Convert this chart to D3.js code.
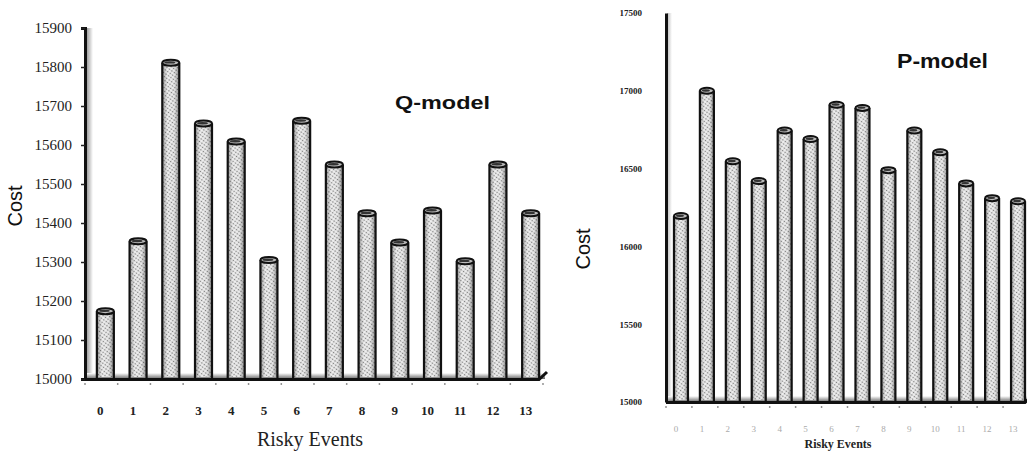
<!DOCTYPE html>
<html>
<head>
<meta charset="utf-8">
<script src="https://cdn.jsdelivr.net/npm/d3@7"></script>
<style>
  body { margin: 0; background: #fff; }
  svg { display: block; }
</style>
</head>
<body>
<svg id="chart" width="1027" height="460"></svg>
<script>
// data
var events = ["0","1","2","3","4","5","6","7","8","9","10","11","12","13"];
var qCost = [15174, 15353, 15811, 15655, 15609, 15305, 15662, 15550, 15425, 15350, 15432, 15302, 15550, 15425];
var pCost = [16195, 17000, 16547, 16420, 16745, 16690, 16910, 16890, 16490, 16745, 16605, 16405, 16310, 16290];
var qTicks = [15000, 15100, 15200, 15300, 15400, 15500, 15600, 15700, 15800, 15900];
var pTicks = [15000, 15500, 16000, 16500, 17000, 17500];

var svg = d3.select("#chart");
var defs = svg.append("defs");

// dotted fill like the old printed bars
var pat = defs.append("pattern")
    .attr("id", "dots")
    .attr("width", 3).attr("height", 3)
    .attr("patternUnits", "userSpaceOnUse")
    .attr("patternTransform", "rotate(35)");
pat.append("rect").attr("width", 3).attr("height", 3).attr("fill", "#f0f0f0");
pat.append("circle").attr("cx", 1.5).attr("cy", 1.5).attr("r", 0.8).attr("fill", "#7a7a7a");

var shade = defs.append("linearGradient").attr("id", "shade");
shade.append("stop").attr("offset", "0%").attr("stop-color", "#000").attr("stop-opacity", 0.35);
shade.append("stop").attr("offset", "30%").attr("stop-color", "#000").attr("stop-opacity", 0);
shade.append("stop").attr("offset", "70%").attr("stop-color", "#000").attr("stop-opacity", 0.03);
shade.append("stop").attr("offset", "100%").attr("stop-color", "#000").attr("stop-opacity", 0.4);

var wall = defs.append("linearGradient").attr("id", "wall");
wall.append("stop").attr("offset", "0%").attr("stop-color", "#777");
wall.append("stop").attr("offset", "100%").attr("stop-color", "#fff");

var floorG = defs.append("linearGradient").attr("id", "floorG")
    .attr("x1", 0).attr("x2", 0).attr("y1", 0).attr("y2", 1);
floorG.append("stop").attr("offset", "0%").attr("stop-color", "#fff");
floorG.append("stop").attr("offset", "100%").attr("stop-color", "#666");

function drawPanel(o) {
  var g = svg.append("g");
  var x = d3.scaleBand().domain(events).range([o.x0, o.x1]);
  var y = d3.scaleLinear().domain(o.domain).range([o.yBottom, o.yTop]);

  // side wall
  g.append("rect")
    .attr("x", o.x0 + 1).attr("y", o.yTop)
    .attr("width", o.wallW).attr("height", o.yBottom - o.yTop)
    .attr("fill", "url(#wall)").attr("opacity", o.wallOp);

  // floor shadow
  g.append("rect")
    .attr("x", o.x0).attr("y", o.yBottom - 6)
    .attr("width", o.x1 - o.x0 + 2).attr("height", 6)
    .attr("fill", "url(#floorG)");

  // y axis
  var yAxis = d3.axisLeft(y).tickValues(o.ticks).tickFormat(d3.format("d"))
    .tickSize(o.tickLen).tickPadding(o.tickPad);
  var ya = g.append("g").attr("transform", "translate(" + o.x0 + ",0)").call(yAxis);
  ya.select(".domain").attr("stroke", "#111").attr("stroke-width", 3);
  ya.selectAll(".tick line").attr("stroke", "#222").attr("stroke-width", 1.5);
  ya.selectAll(".tick text")
    .attr("fill", "#222")
    .style("font-family", "'Liberation Serif', serif")
    .style("font-size", o.tickFont + "px")
    .style("font-weight", o.tickBold ? "bold" : "normal");

  // bars as cylinders
  var w = o.barW;
  var bars = g.selectAll(".bar").data(o.values).enter().append("g").attr("class", "bar");
  function cx(d, i) { return x(events[i]) + x.bandwidth() / 2 + o.barShift; }
  bars.append("rect")
    .attr("x", function(d, i) { return cx(d, i) - w / 2; })
    .attr("y", function(d) { return y(d); })
    .attr("width", w)
    .attr("height", function(d) { return o.yBottom - 2 - y(d); })
    .attr("fill", "url(#dots)");
  bars.append("rect")
    .attr("x", function(d, i) { return cx(d, i) - w / 2; })
    .attr("y", function(d) { return y(d); })
    .attr("width", w)
    .attr("height", function(d) { return o.yBottom - 2 - y(d); })
    .attr("fill", "url(#shade)");
  [-1, 1].forEach(function(s) {
    bars.append("line")
      .attr("x1", function(d, i) { return cx(d, i) + s * w / 2; })
      .attr("x2", function(d, i) { return cx(d, i) + s * w / 2; })
      .attr("y1", function(d) { return y(d); })
      .attr("y2", o.yBottom - 1)
      .attr("stroke", "#111").attr("stroke-width", 2.2);
  });
  bars.append("ellipse")
    .attr("cx", function(d, i) { return cx(d, i); })
    .attr("cy", function(d) { return y(d); })
    .attr("rx", w / 2).attr("ry", 3)
    .attr("fill", "#bbb").attr("stroke", "#111").attr("stroke-width", 2);
  bars.append("ellipse")
    .attr("cx", function(d, i) { return cx(d, i) - 1; })
    .attr("cy", function(d) { return y(d) - 0.3; })
    .attr("rx", w / 2 - 3).attr("ry", 1.2)
    .attr("fill", "#333");

  // floor line with slanted end
  g.append("path")
    .attr("d", "M" + o.x0 + "," + (o.yBottom + 0.5) + "L" + (o.x1 - 4) + "," + (o.yBottom + 0.5) +
      "L" + (o.x1 + 4) + "," + (o.yBottom - 7))
    .attr("fill", "none").attr("stroke", "#111").attr("stroke-width", 3);

  // small dots at band edges
  g.selectAll(".dot").data(d3.range(events.length + 1)).enter().append("circle")
    .attr("cx", function(i) { return o.x0 + i * x.step(); })
    .attr("cy", o.yBottom + 5)
    .attr("r", 0.9).attr("fill", "#888");

  // category labels
  g.selectAll(".xl").data(events).enter().append("text")
    .attr("x", function(d) { return x(d) + x.bandwidth() / 2 + o.labShift; })
    .attr("y", o.xLabY)
    .attr("text-anchor", "middle")
    .attr("fill", o.xLabColor)
    .style("font-family", "'Liberation Serif', serif")
    .style("font-size", o.xLabFont + "px")
    .style("font-weight", o.xLabBold ? "bold" : "normal")
    .text(function(d) { return d; });

  g.append("text")
    .attr("x", o.titleX).attr("y", o.titleY)
    .attr("text-anchor", "middle")
    .style("font-family", "'Liberation Serif', serif")
    .style("font-size", o.xTitleFont + "px")
    .style("font-weight", o.xTitleBold ? "bold" : "normal")
    .attr("fill", "#222")
    .text("Risky Events");

  g.append("text")
    .attr("transform", "translate(" + o.costX + "," + o.costY + ") rotate(-90)")
    .attr("text-anchor", "middle")
    .style("font-family", "'Liberation Sans', Arial, sans-serif")
    .style("font-size", "20px")
    .attr("fill", "#111")
    .text("Cost");

  // model name, stretched a little like the original
  g.append("text")
    .attr("x", o.nameX).attr("y", o.nameY)
    .attr("textLength", o.nameW).attr("lengthAdjust", "spacingAndGlyphs")
    .style("font-family", "'Liberation Sans', Arial, sans-serif")
    .style("font-size", o.nameFont + "px")
    .style("font-weight", "bold")
    .attr("fill", "#111")
    .text(o.name);
}

drawPanel({
  values: qCost, ticks: qTicks, domain: [15000, 15900],
  x0: 85, x1: 543, yTop: 28, yBottom: 379,
  wallW: 7, wallOp: 0.8,
  tickLen: 4, tickPad: 9, tickFont: 15, tickBold: false,
  barW: 17, barShift: 4, labShift: -1,
  xLabY: 415, xLabFont: 13, xLabBold: true, xLabColor: "#222",
  titleX: 310, titleY: 446, xTitleFont: 20, xTitleBold: false,
  costX: 22, costY: 206,
  name: "Q-model", nameX: 395, nameY: 109, nameW: 95, nameFont: 19
});

drawPanel({
  values: pCost, ticks: pTicks, domain: [15000, 17500],
  x0: 666, x1: 1029, yTop: 13, yBottom: 402,
  wallW: 5, wallOp: 0.5,
  tickLen: 0, tickPad: 24, tickFont: 9, tickBold: true,
  barW: 14, barShift: 2, labShift: -3,
  xLabY: 432, xLabFont: 9, xLabBold: false, xLabColor: "#aaa",
  titleX: 838, titleY: 448, xTitleFont: 12, xTitleBold: true,
  costX: 590, costY: 249,
  name: "P-model", nameX: 897, nameY: 68, nameW: 91, nameFont: 20
});
</script>
</body>
</html>
